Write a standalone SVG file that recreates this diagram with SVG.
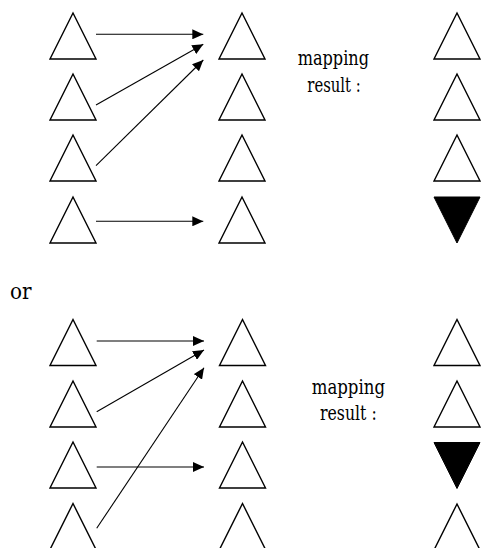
<svg xmlns="http://www.w3.org/2000/svg" width="481" height="548" viewBox="0 0 481 548">
  <style>
    .tri { fill: #ffffff; stroke: #000000; stroke-width: 1.4; stroke-linejoin: miter; }
    .inv { fill: #000000; stroke: #000000; stroke-width: 1; }
    .edge { fill: none; stroke: #000000; stroke-width: 1.1; marker-end: url(#head); }
    text { font-family: 'DejaVu Serif', serif; fill: #000000; }
    .lbl { font-size: 20.5px; }
    .or { font-size: 22px; }
  </style>
  <defs>
    <marker id="head" viewBox="0 0 11 10" refX="11" refY="5" markerWidth="11" markerHeight="10" markerUnits="userSpaceOnUse" orient="auto">
      <path d="M0,0 L11,5 L0,10 z" fill="#000000"/>
    </marker>
    <polygon id="up" points="0,0 -23,46 23,46"/>
    <polygon id="down" points="-23,0 23,0 0,46"/>
  </defs>

  <rect width="481" height="548" fill="#ffffff"/>

  <!-- first mapping: sources -->
  <g id="a-src-1"><use href="#up" class="tri" x="73" y="13"/></g>
  <g id="a-src-2"><use href="#up" class="tri" x="73" y="74"/></g>
  <g id="a-src-3"><use href="#up" class="tri" x="73" y="135"/></g>
  <g id="a-src-4"><use href="#up" class="tri" x="73" y="197"/></g>
  <!-- first mapping: targets -->
  <g id="a-dst-1"><use href="#up" class="tri" x="242" y="13"/></g>
  <g id="a-dst-2"><use href="#up" class="tri" x="242" y="74"/></g>
  <g id="a-dst-3"><use href="#up" class="tri" x="242" y="135"/></g>
  <g id="a-dst-4"><use href="#up" class="tri" x="242" y="197"/></g>
  <!-- first mapping: result -->
  <g id="a-res-1"><use href="#up" class="tri" x="457" y="13"/></g>
  <g id="a-res-2"><use href="#up" class="tri" x="457" y="74"/></g>
  <g id="a-res-3"><use href="#up" class="tri" x="457" y="135"/></g>
  <g id="a-res-4"><use href="#down" class="inv" x="457" y="197"/></g>
  <g id="a-label">
    <text class="lbl" x="297.7" y="65" textLength="71.3" lengthAdjust="spacingAndGlyphs">mapping</text>
    <text class="lbl" x="307.3" y="91.5" textLength="53.4" lengthAdjust="spacingAndGlyphs">result :</text>
  </g>

  <g id="or-label"><text class="or" x="10" y="298.5" textLength="21.5" lengthAdjust="spacingAndGlyphs">or</text></g>

  <!-- second mapping: sources -->
  <g id="b-src-1"><use href="#up" class="tri" x="73" y="319.5"/></g>
  <g id="b-src-2"><use href="#up" class="tri" x="73" y="381"/></g>
  <g id="b-src-3"><use href="#up" class="tri" x="73" y="442"/></g>
  <g id="b-src-4"><use href="#up" class="tri" x="73" y="503.5"/></g>
  <!-- second mapping: targets -->
  <g id="b-dst-1"><use href="#up" class="tri" x="242.5" y="319.5"/></g>
  <g id="b-dst-2"><use href="#up" class="tri" x="242.5" y="381"/></g>
  <g id="b-dst-3"><use href="#up" class="tri" x="242.5" y="442"/></g>
  <g id="b-dst-4"><use href="#up" class="tri" x="242.5" y="503.5"/></g>
  <!-- second mapping: result -->
  <g id="b-res-1"><use href="#up" class="tri" x="457" y="319.5"/></g>
  <g id="b-res-2"><use href="#up" class="tri" x="457" y="381"/></g>
  <g id="b-res-3"><use href="#down" class="inv" x="457" y="442.5"/></g>
  <g id="b-res-4"><use href="#up" class="tri" x="457" y="504"/></g>
  <g id="b-label">
    <text class="lbl" x="311.7" y="394.3" textLength="73.3" lengthAdjust="spacingAndGlyphs">mapping</text>
    <text class="lbl" x="320" y="420" textLength="56.7" lengthAdjust="spacingAndGlyphs">result :</text>
  </g>

  <!-- connectors -->
  <g id="connectors">
    <line class="edge" x1="96" y1="34.3" x2="203.3" y2="34.3"/>
    <line class="edge" x1="96" y1="105" x2="203.3" y2="44.3"/>
    <line class="edge" x1="96" y1="165.7" x2="203.3" y2="60"/>
    <line class="edge" x1="96" y1="221.3" x2="203.3" y2="221.3"/>
    <line class="edge" x1="96.7" y1="341" x2="204" y2="341"/>
    <line class="edge" x1="96.7" y1="411.7" x2="204" y2="350"/>
    <line class="edge" x1="96.7" y1="467" x2="204" y2="467"/>
    <line class="edge" x1="96.7" y1="528.3" x2="204" y2="367.7"/>
  </g>
</svg>
